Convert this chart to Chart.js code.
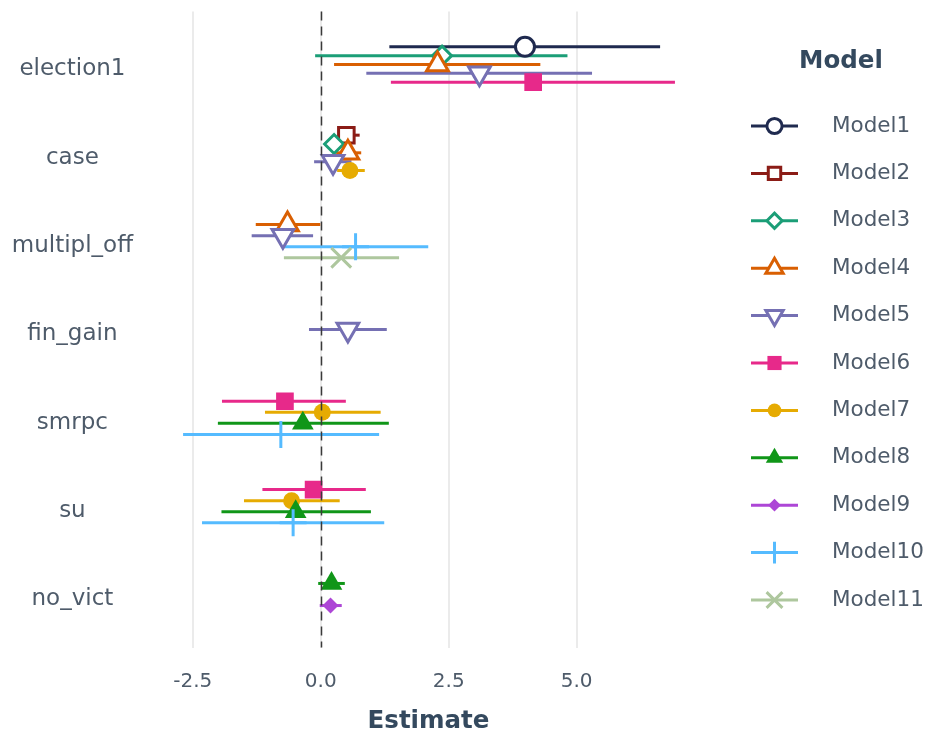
<!DOCTYPE html>
<html>
<head>
<meta charset="utf-8">
<script src="https://cdn.jsdelivr.net/npm/chart.js@4.4.1/dist/chart.umd.min.js"></script>
<style>
  html, body { margin: 0; padding: 0; background: #ffffff; }
  #wrap { width: 928px; height: 736px; }
</style>
</head>
<body>
<div id="wrap"><canvas id="coef" width="928" height="736"></canvas></div>
<script>
// Regression terms, top to bottom
const TERMS = ['election1', 'case', 'multipl_off', 'fin_gain', 'smrpc', 'su', 'no_vict'];
const MODELS = ['Model1', 'Model2', 'Model3', 'Model4', 'Model5', 'Model6',
                'Model7', 'Model8', 'Model9', 'Model10', 'Model11'];
const X_TICKS = [-2.5, 0, 2.5, 5];

// Coefficient rows per term: [model, estimate, lower, upper]
const rowsElection1 = [
  ['Model1', 3.99, 1.34, 6.63],
  ['Model3', 2.37, -0.11, 4.82],
  ['Model4', 2.28, 0.26, 4.29],
  ['Model5', 3.10, 0.89, 5.30],
  ['Model6', 4.15, 1.37, 6.92]
];
const rowsCase = [
  ['Model2', 0.50, 0.36, 0.76],
  ['Model3', 0.26, 0.12, 0.42],
  ['Model4', 0.53, 0.30, 0.79],
  ['Model5', 0.24, -0.13, 0.60],
  ['Model7', 0.57, 0.32, 0.86]
];
const rowsMultiplOff = [
  ['Model4', -0.65, -1.27, -0.01],
  ['Model5', -0.74, -1.35, -0.15],
  ['Model10', 0.68, -0.72, 2.10],
  ['Model11', 0.40, -0.72, 1.53]
];
const rowsFinGain = [
  ['Model5', 0.53, -0.23, 1.29]
];
const rowsSmrpc = [
  ['Model6', -0.70, -1.93, 0.49],
  ['Model7', 0.03, -1.09, 1.17],
  ['Model8', -0.35, -2.01, 1.33],
  ['Model10', -0.78, -2.69, 1.14]
];
const rowsSu = [
  ['Model6', -0.14, -1.14, 0.88],
  ['Model7', -0.57, -1.50, 0.37],
  ['Model8', -0.49, -1.94, 0.98],
  ['Model10', -0.54, -2.32, 1.24]
];
const rowsNoVict = [
  ['Model8', 0.21, -0.05, 0.47],
  ['Model9', 0.19, -0.02, 0.41]
];
const TERM_ROWS = [rowsElection1, rowsCase, rowsMultiplOff, rowsFinGain, rowsSmrpc, rowsSu, rowsNoVict];

// Colour and marker per model
const COLORS = ['#1f2a4f', '#8b1c16', '#1b9e77', '#d95f02', '#7570b3', '#e7298a',
                '#e6ab02', '#109618', '#ad46d6', '#55bbff', '#aec79e'];
const MARKERS = [
  { style: 'circle',   radius: 9.5,  fill: '#ffffff', border: 3 },
  { style: 'rect',     radius: 11,   fill: '#ffffff', border: 3 },
  { style: 'rectRot',  radius: 9.5,  fill: '#ffffff', border: 3 },
  { style: 'triangle', radius: 12.5, fill: '#ffffff', border: 3 },
  { style: 'triangle', radius: 12.5, fill: '#ffffff', border: 3, rotation: 180 },
  { style: 'rect',     radius: 12.5, fill: null,      border: 0 },
  { style: 'circle',   radius: 8.5,  fill: null,      border: 0 },
  { style: 'triangle', radius: 12.5, fill: null,      border: 0 },
  { style: 'rectRot',  radius: 8,    fill: null,      border: 0 },
  { style: 'cross',    radius: 13.5, fill: null,      border: 3 },
  { style: 'crossRot', radius: 14,   fill: null,      border: 3 }
];

const DODGE = 0.5;          // share of one term row used by the dodged models
const LABEL = '#4e5b6a';
const TITLE = '#34495e';
const FONT = 'DejaVu Sans';

// One scatter dataset per model, dodged vertically inside each term
const datasets = MODELS.map((model, m) => {
  const pts = [];
  TERM_ROWS.forEach((rows, t) => {
    const n = rows.length;
    rows.forEach((r, j) => {
      if (r[0] !== model) return;
      const y = (t + 1) + (j - (n - 1) / 2) * (DODGE / n);
      pts.push({ x: r[1], y: y, lo: r[2], hi: r[3] });
    });
  });
  const mk = MARKERS[m];
  return {
    label: model,
    data: pts,
    order: MODELS.length - m,
    pointStyle: mk.style,
    pointRadius: mk.radius,
    pointHoverRadius: mk.radius,
    pointRotation: mk.rotation || 0,
    pointBorderWidth: mk.border,
    pointBorderColor: COLORS[m],
    pointBackgroundColor: mk.fill || COLORS[m]
  };
});

// Confidence intervals, drawn beneath every marker
const intervalPlugin = {
  id: 'intervals',
  beforeDatasetsDraw(chart) {
    const ctx = chart.ctx;
    const xs = chart.scales.x;
    ctx.save();
    ctx.lineWidth = 3;
    ctx.lineCap = 'butt';
    chart.data.datasets.forEach((ds, i) => {
      const meta = chart.getDatasetMeta(i);
      ctx.strokeStyle = COLORS[i];
      meta.data.forEach((el, k) => {
        const p = ds.data[k];
        ctx.beginPath();
        ctx.moveTo(xs.getPixelForValue(p.lo), el.y);
        ctx.lineTo(xs.getPixelForValue(p.hi), el.y);
        ctx.stroke();
      });
    });
    ctx.restore();
  }
};

// Dashed reference line at zero, on top of the marks
const zeroPlugin = {
  id: 'zeroLine',
  afterDatasetsDraw(chart) {
    const ctx = chart.ctx;
    const a = chart.chartArea;
    const x = Math.round(chart.scales.x.getPixelForValue(0)) + 0.5;
    ctx.save();
    ctx.strokeStyle = '#3a3a3a';
    ctx.lineWidth = 1.5;
    ctx.setLineDash([9, 6]);
    ctx.beginPath();
    ctx.moveTo(x, a.top);
    ctx.lineTo(x, a.bottom);
    ctx.stroke();
    ctx.restore();
  }
};

// Legend: title, then a line-and-marker key per model
const legendPlugin = {
  id: 'modelLegend',
  afterDraw(chart) {
    const ctx = chart.ctx;
    const lg = { titleX: 841, titleY: 62, y0: 126, step: 47.4, x0: 751, x1: 798, mx: 774.5, tx: 832 };
    ctx.save();
    ctx.fillStyle = TITLE;
    ctx.font = 'bold 24.5px "' + FONT + '"';
    ctx.textAlign = 'center';
    ctx.textBaseline = 'middle';
    ctx.fillText('Model', lg.titleX, lg.titleY);
    MODELS.forEach((name, m) => {
      const y = lg.y0 + m * lg.step;
      const mk = MARKERS[m];
      ctx.strokeStyle = COLORS[m];
      ctx.lineWidth = 3;
      ctx.setLineDash([]);
      ctx.beginPath();
      ctx.moveTo(lg.x0, y);
      ctx.lineTo(lg.x1, y);
      ctx.stroke();
      ctx.fillStyle = mk.fill || COLORS[m];
      ctx.lineWidth = mk.border;
      Chart.helpers.drawPoint(ctx, {
        pointStyle: mk.style,
        rotation: mk.rotation || 0,
        radius: mk.radius * 0.8,
        borderWidth: mk.border
      }, lg.mx, y);
      ctx.fillStyle = LABEL;
      ctx.font = '21.5px "' + FONT + '"';
      ctx.textAlign = 'left';
      ctx.textBaseline = 'middle';
      ctx.fillText(name, lg.tx, y);
    });
    ctx.restore();
  }
};

new Chart(document.getElementById('coef'), {
  type: 'scatter',
  data: { datasets: datasets },
  plugins: [intervalPlugin, zeroPlugin, legendPlugin],
  options: {
    responsive: false,
    animation: false,
    devicePixelRatio: 1,
    events: [],
    layout: { autoPadding: false, padding: { top: 11.5, right: 229, bottom: 0, left: 0 } },
    plugins: { legend: { display: false }, tooltip: { enabled: false } },
    scales: {
      x: {
        type: 'linear',
        min: -3.18,
        max: 7.39,
        afterBuildTicks: (s) => { s.ticks = X_TICKS.map(v => ({ value: v })); },
        afterFit: (s) => { s.height = 88.5; },
        ticks: {
          autoSkip: false,
          maxRotation: 0,
          padding: 22,
          color: LABEL,
          font: { family: FONT, size: 20 },
          callback: (v) => Number(v).toFixed(1)
        },
        grid: { color: '#ebebeb', lineWidth: 2, drawTicks: false },
        border: { display: false },
        title: {
          display: true,
          text: 'Estimate',
          color: TITLE,
          font: { family: FONT, size: 24.5, weight: 'bold' },
          padding: { top: 0, bottom: 0 }
        }
      },
      y: {
        type: 'linear',
        reverse: true,
        min: 0.4,
        max: 7.6,
        afterBuildTicks: (s) => { s.ticks = TERMS.map((_, i) => ({ value: i + 1 })); },
        afterFit: (s) => { s.width = 158; s.paddingTop = 0; s.paddingBottom = 0; },
        ticks: {
          autoSkip: false,
          crossAlign: 'center',
          padding: 25,
          labelOffset: 5,
          color: LABEL,
          font: { family: FONT, size: 23 },
          callback: (v) => TERMS[Math.round(v) - 1]
        },
        grid: { display: false, drawTicks: false },
        border: { display: false }
      }
    }
  }
});
</script>
</body>
</html>
